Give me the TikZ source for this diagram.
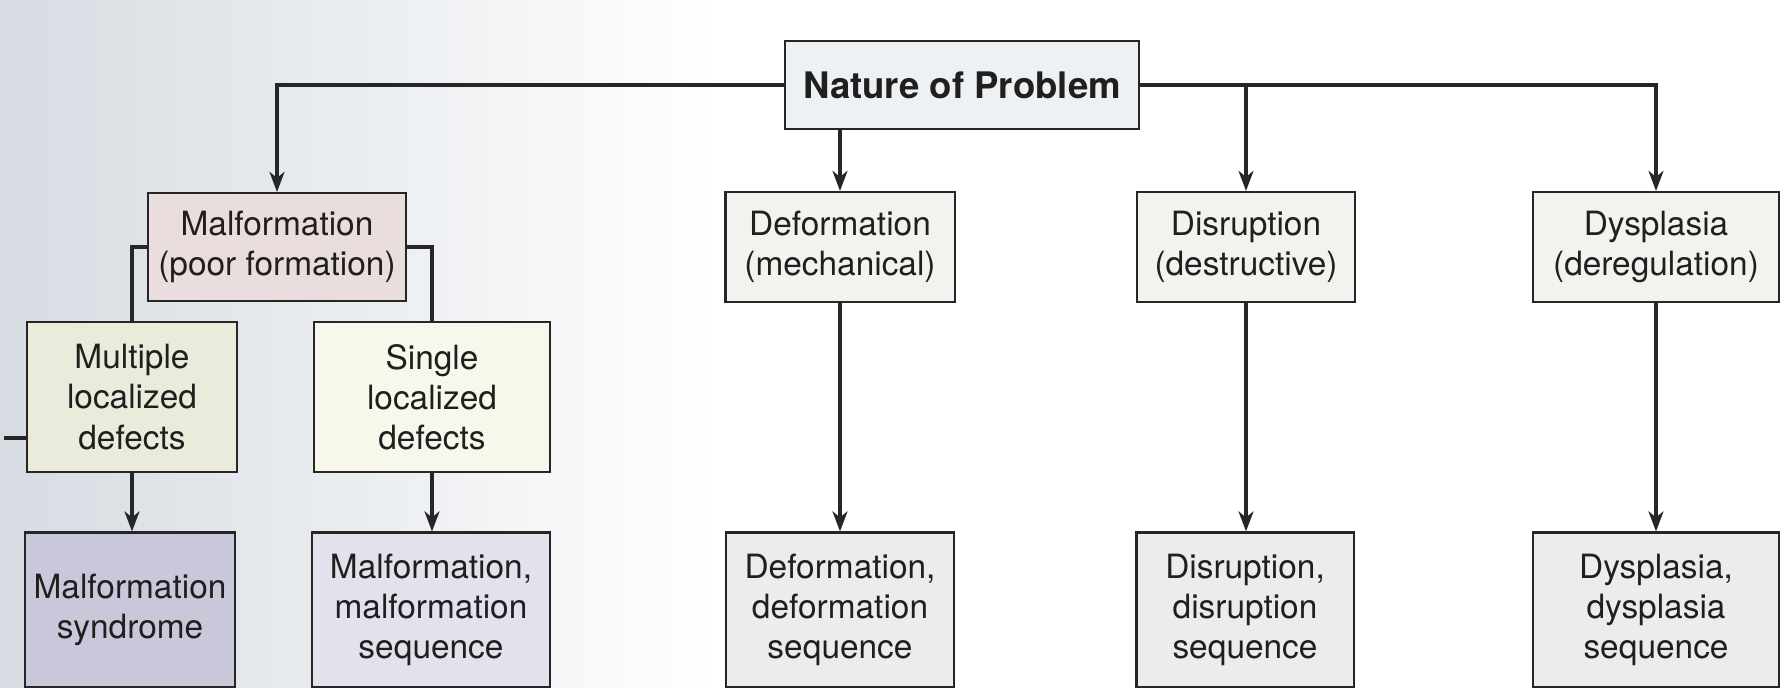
\documentclass[tikz,border=0pt]{standalone}
\usepackage{fontspec}
\setmainfont{TeX Gyre Heros}
\usetikzlibrary{arrows.meta}
\definecolor{scanbg}{HTML}{D6DCE2}
\definecolor{naturefill}{HTML}{EEF1F3}
\definecolor{malffill}{HTML}{E9DDDD}
\definecolor{multifill}{HTML}{EBEBDC}
\definecolor{singlefill}{HTML}{F7F7EB}
\definecolor{syndromefill}{HTML}{C9C8DB}
\definecolor{mseqfill}{HTML}{E2E1EC}
\definecolor{typefill}{HTML}{F3F2EF}
\definecolor{seqfill}{HTML}{ECECEC}
\tikzset{
    box/.style={draw=black!85, line width=0.6pt, inner sep=0pt, align=center,
        text=black!88, font=\fontsize{9.5}{11.4}\selectfont},
    link/.style={line width=0.9pt, draw=black!85},
    arrowlink/.style={link, -{Stealth[length=2mm, width=1.5mm, inset=0.6mm]}},
}

\begin{document}
\begin{tikzpicture}[x=0.01cm, y=-0.01cm]
\useasboundingbox (0,0) rectangle (1785,688);
\shade[left color=scanbg, right color=white] (0,0) rectangle (720,688);

\node[box, fill=naturefill, minimum width=3.53cm, minimum height=0.88cm] (nature) at (962,85) {\fontsize{10.4}{12}\selectfont\textbf{Nature of Problem}};

\node[box, fill=malffill, minimum width=2.58cm, minimum height=1.08cm] (malf) at (277,247) {Malformation\\(poor formation)};
\node[box, fill=typefill, minimum width=2.29cm, minimum height=1.10cm] (deform) at (840,247) {Deformation\\(mechanical)};
\node[box, fill=typefill, minimum width=2.18cm, minimum height=1.10cm] (disrupt) at (1246,247) {Disruption\\(destructive)};
\node[box, fill=typefill, minimum width=2.46cm, minimum height=1.10cm] (dyspl) at (1656,247) {Dysplasia\\(deregulation)};

\node[box, fill=multifill, minimum width=2.10cm, minimum height=1.50cm] (multi) at (132,397) {Multiple\\localized\\defects};
\node[box, fill=singlefill, minimum width=2.36cm, minimum height=1.50cm] (single) at (432,397) {Single\\localized\\defects};

\node[box, fill=syndromefill, minimum width=2.10cm, minimum height=1.55cm] (syndrome) at (130,610) {Malformation\\syndrome};
\node[box, fill=mseqfill, minimum width=2.37cm, minimum height=1.55cm] (mseq) at (431,610) {Malformation,\\malformation\\sequence};
\node[box, fill=seqfill, minimum width=2.28cm, minimum height=1.55cm] (dseq) at (840,610) {Deformation,\\deformation\\sequence};
\node[box, fill=seqfill, minimum width=2.17cm, minimum height=1.55cm] (rseq) at (1245,610) {Disruption,\\disruption\\sequence};
\node[box, fill=seqfill, minimum width=2.46cm, minimum height=1.55cm] (yseq) at (1656,610) {Dysplasia,\\dysplasia\\sequence};

\draw[arrowlink] (nature.west) -| (malf.north);
\draw[arrowlink] (nature.south -| deform.north) -- (deform.north);
\draw[arrowlink] (nature.east) -| (disrupt.north);
\draw[arrowlink] (nature.east) -| (dyspl.north);

\draw[link] (malf.west) -| (multi.north);
\draw[link] (malf.east) -| (single.north);

\foreach \a/\b in {multi/syndrome, single/mseq, deform/dseq, disrupt/rseq, dyspl/yseq}
    \draw[arrowlink] (\a.south) -- (\a.south |- \b.north);

\coordinate (stub) at (4,438);
\draw[link] (stub) -- (stub -| multi.west);
\end{tikzpicture}
\end{document}
